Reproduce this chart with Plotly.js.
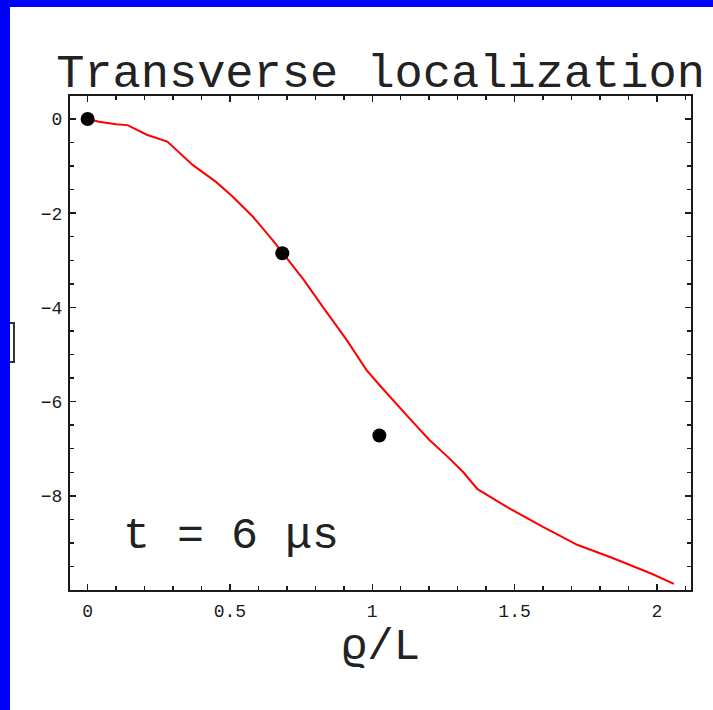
<!DOCTYPE html>
<html>
<head>
<meta charset="utf-8">
<script src="https://cdn.plot.ly/plotly-3.0.1.min.js"></script>
<style>
  html, body { margin: 0; padding: 0; background: #0000ff; width: 713px; height: 710px; overflow: hidden; }
  #chart { position: absolute; left: 10px; top: 7px; width: 703px; height: 703px; background: #ffffff; }
</style>
</head>
<body>
<div id="chart"></div>
<script>
// Computed profile (red curve): radial distance rho/L against log signal
const curveX = [0, 0.04, 0.10, 0.14, 0.21, 0.28, 0.37, 0.45, 0.51, 0.58, 0.65, 0.76, 0.83, 0.91, 0.98, 1.03, 1.13, 1.20, 1.27, 1.32, 1.37, 1.48, 1.60, 1.72, 1.84, 1.98, 2.06];
const curveY = [0, -0.06, -0.11, -0.13, -0.34, -0.48, -0.98, -1.33, -1.65, -2.07, -2.57, -3.42, -4.02, -4.69, -5.33, -5.68, -6.35, -6.81, -7.20, -7.50, -7.86, -8.26, -8.66, -9.04, -9.31, -9.65, -9.87];

// Measured points (black dots)
const measX = [0, 0.684, 1.025];
const measY = [0, -2.85, -6.72];

// Axis ticks
const xTicks = [0, 0.5, 1, 1.5, 2];
const xTickText = ['0', '0.5', '1', '1.5', '2'];
const yTicks = [0, -2, -4, -6, -8];
const yTickText = ['0', '\u22122', '\u22124', '\u22126', '\u22128'];

const mono = 'Liberation Mono, Courier New, monospace';
const ink = '#1a1a1a';

const traces = [
  {
    x: curveX, y: curveY, type: 'scatter', mode: 'lines',
    line: { color: '#ff0000', width: 2 },
    hoverinfo: 'skip', showlegend: false
  },
  {
    x: measX, y: measY, type: 'scatter', mode: 'markers',
    marker: { color: '#000000', size: 14 },
    showlegend: false
  }
];

const axisCommon = {
  showgrid: false, zeroline: false,
  showline: true, linecolor: ink, linewidth: 2, mirror: 'allticks',
  ticks: 'inside', ticklen: 6, tickwidth: 1.5, tickcolor: ink,
  tickfont: { family: mono, size: 18, color: ink },
  fixedrange: true
};

const layout = {
  width: 703, height: 703,
  paper_bgcolor: '#ffffff', plot_bgcolor: '#ffffff',
  margin: { l: 60, r: 22, t: 89, b: 120 },
  title: {
    text: 'Transverse localization',
    font: { family: mono, size: 47, color: '#222222' },
    x: 0.5, xref: 'paper', xanchor: 'center',
    y: 1 - 64 / 703, yref: 'container', yanchor: 'middle'
  },
  xaxis: Object.assign({}, axisCommon, {
    range: [-0.062, 2.12],
    tickvals: xTicks, ticktext: xTickText,
    ticklabelstandoff: 3,
    minor: { dtick: 0.1, tick0: 0, ticks: 'inside', ticklen: 4, tickwidth: 1.5, tickcolor: ink },
    title: { text: 'ϱ/L', font: { family: mono, size: 44, color: '#222222' }, standoff: 2 }
  }),
  yaxis: Object.assign({}, axisCommon, {
    range: [-10.0, 0.488],
    tickvals: yTicks, ticktext: yTickText,
    ticklabelstandoff: 2,
    minor: { dtick: 0.5, tick0: 0, ticks: 'inside', ticklen: 4, tickwidth: 1.5, tickcolor: ink }
  }),
  annotations: [
    {
      text: 't = 6 μs', x: 0.504, y: -8.87, xref: 'x', yref: 'y',
      xanchor: 'center', yanchor: 'middle', showarrow: false,
      font: { family: mono, size: 45, color: '#222222' }
    }
  ],
  shapes: [
    {
      type: 'path', xref: 'paper', yref: 'paper',
      path: 'M -0.0966 0.5405 L -0.0902 0.5405 L -0.0902 0.4615 L -0.0966 0.4615',
      line: { color: '#333333', width: 2 }
    }
  ]
};

Plotly.newPlot('chart', traces, layout, { displayModeBar: false, staticPlot: true });
</script>
</body>
</html>
